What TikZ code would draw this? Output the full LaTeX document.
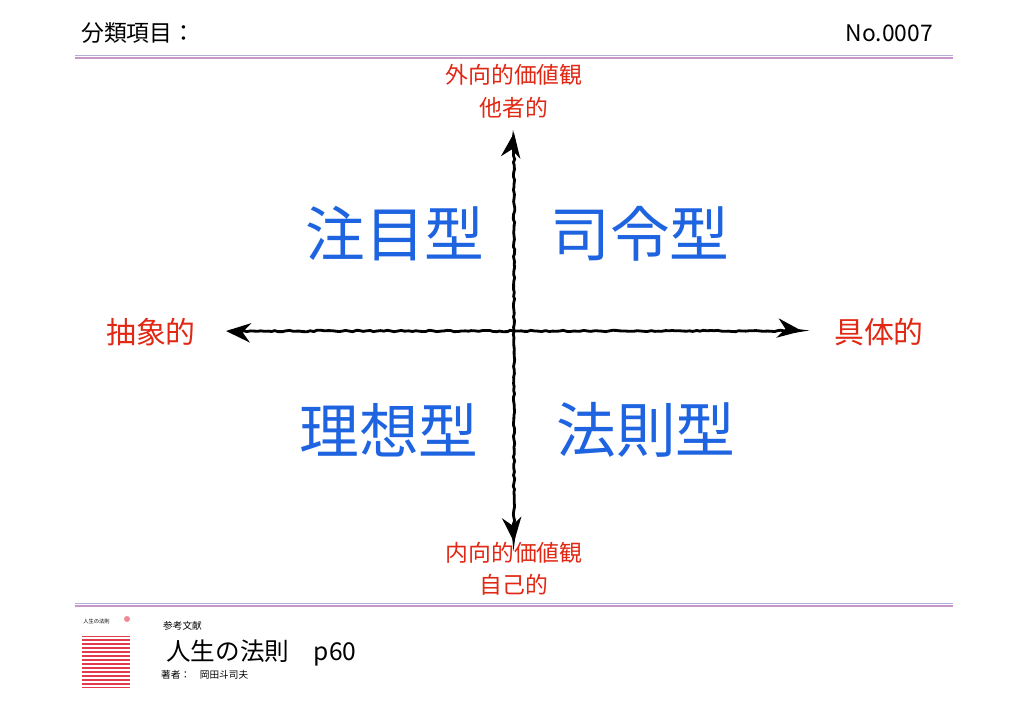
\documentclass[tikz,border=0pt]{standalone}
\usepackage{fontspec}
\setmainfont{Noto Sans CJK JP}
\usetikzlibrary{arrows.meta,decorations.pathmorphing}
\definecolor{quadblue}{RGB}{30,100,225}
\definecolor{axisred}{RGB}{225,40,20}
\definecolor{ruleblue}{RGB}{175,175,215}
\definecolor{rulepink}{RGB}{200,150,200}
\definecolor{coverred}{RGB}{225,60,80}
\tikzset{
  quad/.style={text=quadblue, font=\fontsize{34}{34}\selectfont},
  pole/.style={text=axisred, font=\fontsize{17}{17}\selectfont},
  polesmall/.style={text=axisred, font=\fontsize{13}{13}\selectfont},
  axis/.style={line width=1.6pt, decorate, decoration={random steps, segment length=2pt, amplitude=0.4pt},
    -{Stealth[length=14pt, width=11pt]}},
}
\begin{document}
\begin{tikzpicture}[x=0.02cm, y=-0.02cm]
\useasboundingbox[fill=white] (0,0) rectangle (1024,712);

% header
\node[anchor=west, font=\fontsize{13}{13}\selectfont] (title) at (75,33) {分類項目：};
\node[anchor=east, font=\fontsize{13}{13}\selectfont] (number) at (939,33) {No.0007};
\draw[ruleblue, line width=0.8pt] (75,55.5) -- (953,55.5);
\draw[rulepink, line width=0.8pt] (75,58) -- (953,58);

% axes
\coordinate (centre) at (514,331);
\coordinate (left) at (226,331);
\coordinate (right) at (802,331);
\coordinate (top) at (514,133);
\coordinate (bottom) at (514,542);
\draw[axis] (centre) -- (left);
\draw[axis] (centre) -- (right);
\draw[axis] (centre) -- (top);
\draw[axis] (centre) -- (bottom);

% poles
\node[pole] (abstract) at (151,332) {抽象的};
\node[pole] (concrete) at (879,332) {具体的};
\node[polesmall] (outer) at (514,75) {外向的価値観};
\node[polesmall] (others) at (514,108) {他者的};
\node[polesmall] (inner) at (514,553) {内向的価値観};
\node[polesmall] (self) at (514,585) {自己的};

% quadrants
\node[quad] (attention) at (395,234) {注目型};
\node[quad] (command) at (640,234) {司令型};
\node[quad] (ideal) at (389,430) {理想型};
\node[quad] (rule) at (646,430) {法則型};

% footer
\draw[ruleblue, line width=0.8pt] (75,603.5) -- (953,603.5);
\draw[rulepink, line width=0.8pt] (75,606) -- (953,606);
\fill[coverred] (82,636) rectangle (130,688);
\foreach \y in {638,642,...,686}
  \draw[white, line width=0.8pt] (82,\y) -- (130,\y);
\node[anchor=west, font=\fontsize{3}{3}\selectfont, inner sep=0pt] (covertitle) at (83,622) {人生の法則};
\fill[coverred!60] (127,619) circle (3);
\node[anchor=west, font=\fontsize{5.5}{6}\selectfont] (reference) at (157,626) {参考文献};
\node[anchor=west, font=\fontsize{14}{14}\selectfont] (book) at (160,653) {人生の法則\quad p60};
\node[anchor=west, font=\fontsize{5.5}{6}\selectfont] (author) at (155,675) {著者：\quad 岡田斗司夫};
\end{tikzpicture}
\end{document}
